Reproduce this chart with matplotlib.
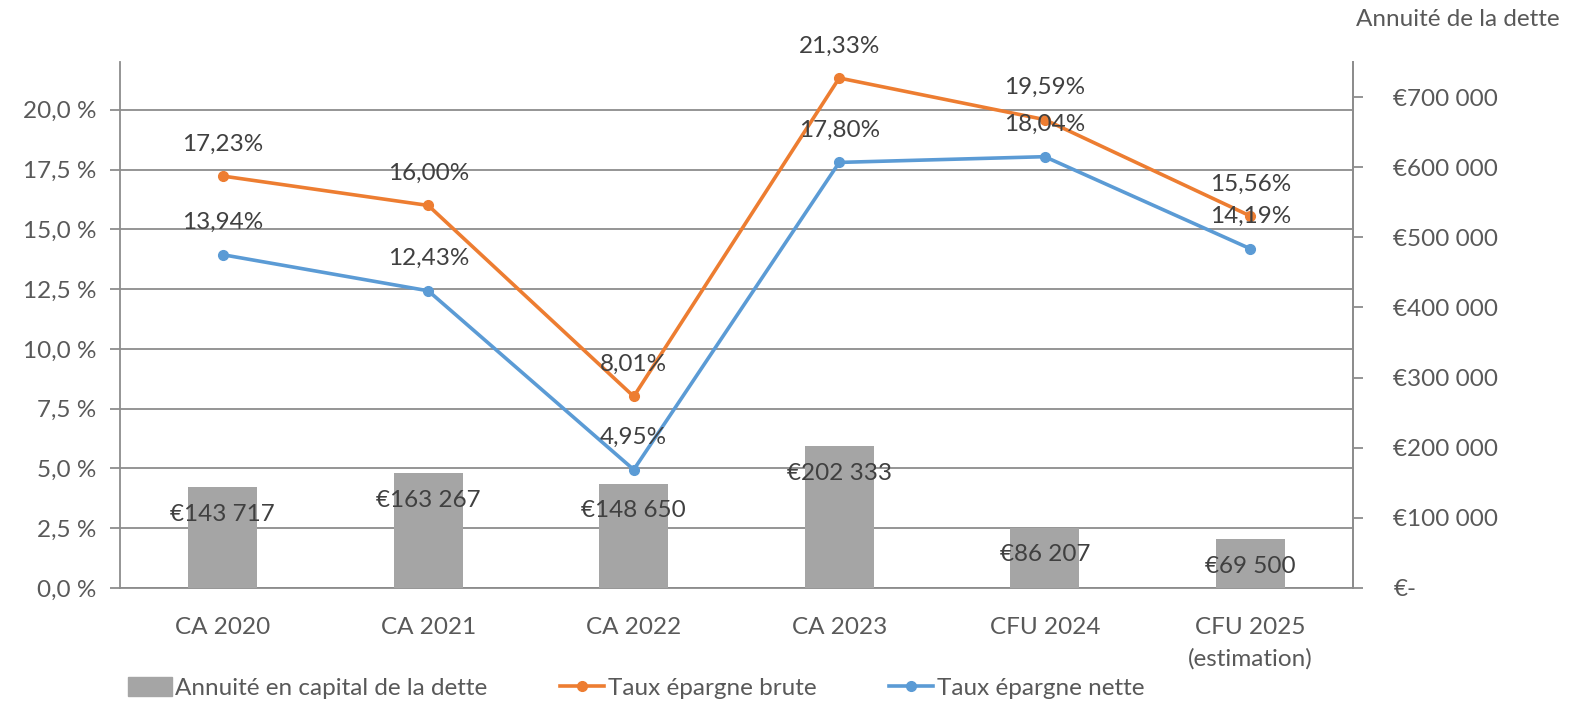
import matplotlib
matplotlib.use("Agg")
import matplotlib.pyplot as plt
from matplotlib.lines import Line2D
from matplotlib.patches import Patch

categories = ["CA 2020", "CA 2021", "CA 2022", "CA 2023", "CFU 2024", "CFU 2025\n(estimation)"]
annuite = [143717, 163267, 148650, 202333, 86207, 69500]
taux_brute = [17.23, 16.00, 8.01, 21.33, 19.59, 15.56]
taux_nette = [13.94, 12.43, 4.95, 17.80, 18.04, 14.19]
pct_ticks = [0, 2.5, 5, 7.5, 10, 12.5, 15, 17.5, 20]
eur_ticks = [0, 100000, 200000, 300000, 400000, 500000, 600000, 700000]

TXT = "#595959"
GRID = "#8c8c8c"
ORANGE = "#ED7D31"
BLUE = "#5B9BD5"
GRAY = "#A5A5A5"
FS = 17.5
plt.rcParams['font.family'] = ['Lato', 'DejaVu Sans']

fig = plt.figure(figsize=(15.73, 7.09), dpi=100)
ax = fig.add_axes([120/1573, 1-588/709, (1353-120)/1573, (588-62)/709])
x = list(range(len(categories)))

ax.set_xlim(-0.5, len(categories)-0.5)
ax.set_ylim(0, 22)
ax.set_yticks(pct_ticks)
ax.set_yticklabels([f"{v:.1f}".replace(".", ",") + " %" for v in pct_ticks])
ax.yaxis.grid(True, color=GRID, linewidth=1.3)
ax.set_axisbelow(True)
ax.set_xticks(x)
ax.set_xticklabels(categories, linespacing=1.55)
ax.tick_params(axis='x', length=0, pad=21, labelsize=FS, labelcolor=TXT)
ax.tick_params(axis='y', length=7, width=1.3, color=GRID, pad=10, labelsize=FS, labelcolor=TXT)
ax.spines['top'].set_visible(False)
for s in ['left', 'right', 'bottom']:
    ax.spines[s].set_color(GRID)
    ax.spines[s].set_linewidth(1.3)

axb = ax.twinx()
axb.set_ylim(0, 750000)
axb.bar(x, annuite, width=0.335, color=GRAY, zorder=2)
axb.set_yticks(eur_ticks)
axb.set_yticklabels(["€-" if v == 0 else "€" + f"{v:,}".replace(",", " ") for v in eur_ticks])
axb.tick_params(axis='y', length=7, width=1.3, color=GRID, pad=22, labelsize=FS, labelcolor=TXT)
for s in ['top', 'left', 'bottom']:
    axb.spines[s].set_visible(False)
axb.spines['right'].set_color(GRID)
axb.spines['right'].set_linewidth(1.3)
for xi, v in zip(x, annuite):
    axb.annotate("€" + f"{v:,}".replace(",", " "), (xi, v), xytext=(0, -27),
                 textcoords='offset pixels', ha='center', va='center', fontsize=FS, color="#404040")

axl = ax.twinx()
axl.set_ylim(0, 22)
axl.axis('off')
axl.plot(x, taux_brute, color=ORANGE, lw=2.6, marker='o', ms=7, zorder=3)
axl.plot(x, taux_nette, color=BLUE, lw=2.6, marker='o', ms=7, zorder=3)
for series in (taux_brute, taux_nette):
    for xi, v in zip(x, series):
        axl.annotate(f"{v:.2f}".replace(".", ",") + "%", (xi, v), xytext=(0, 32),
                     textcoords='offset pixels', ha='center', va='center', fontsize=FS, color="#404040")

fig.text(1560/1573, 1-20/709, "Annuité de la dette", ha='right', va='center', fontsize=FS, color=TXT)

handles = [Patch(color=GRAY),
           Line2D([], [], color=ORANGE, lw=2.6, marker='o', ms=7),
           Line2D([], [], color=BLUE, lw=2.6, marker='o', ms=7)]
labels = ["Annuité en capital de la dette", "Taux épargne brute", "Taux épargne nette"]
fig.legend(handles, labels, loc='center', bbox_to_anchor=(636/1573, 1-688/709), ncol=3,
           frameon=False, fontsize=FS, labelcolor=TXT, handlelength=1.8, handleheight=0.8,
           handletextpad=0.15, columnspacing=3.0)

fig.savefig("out.png", dpi=100)
